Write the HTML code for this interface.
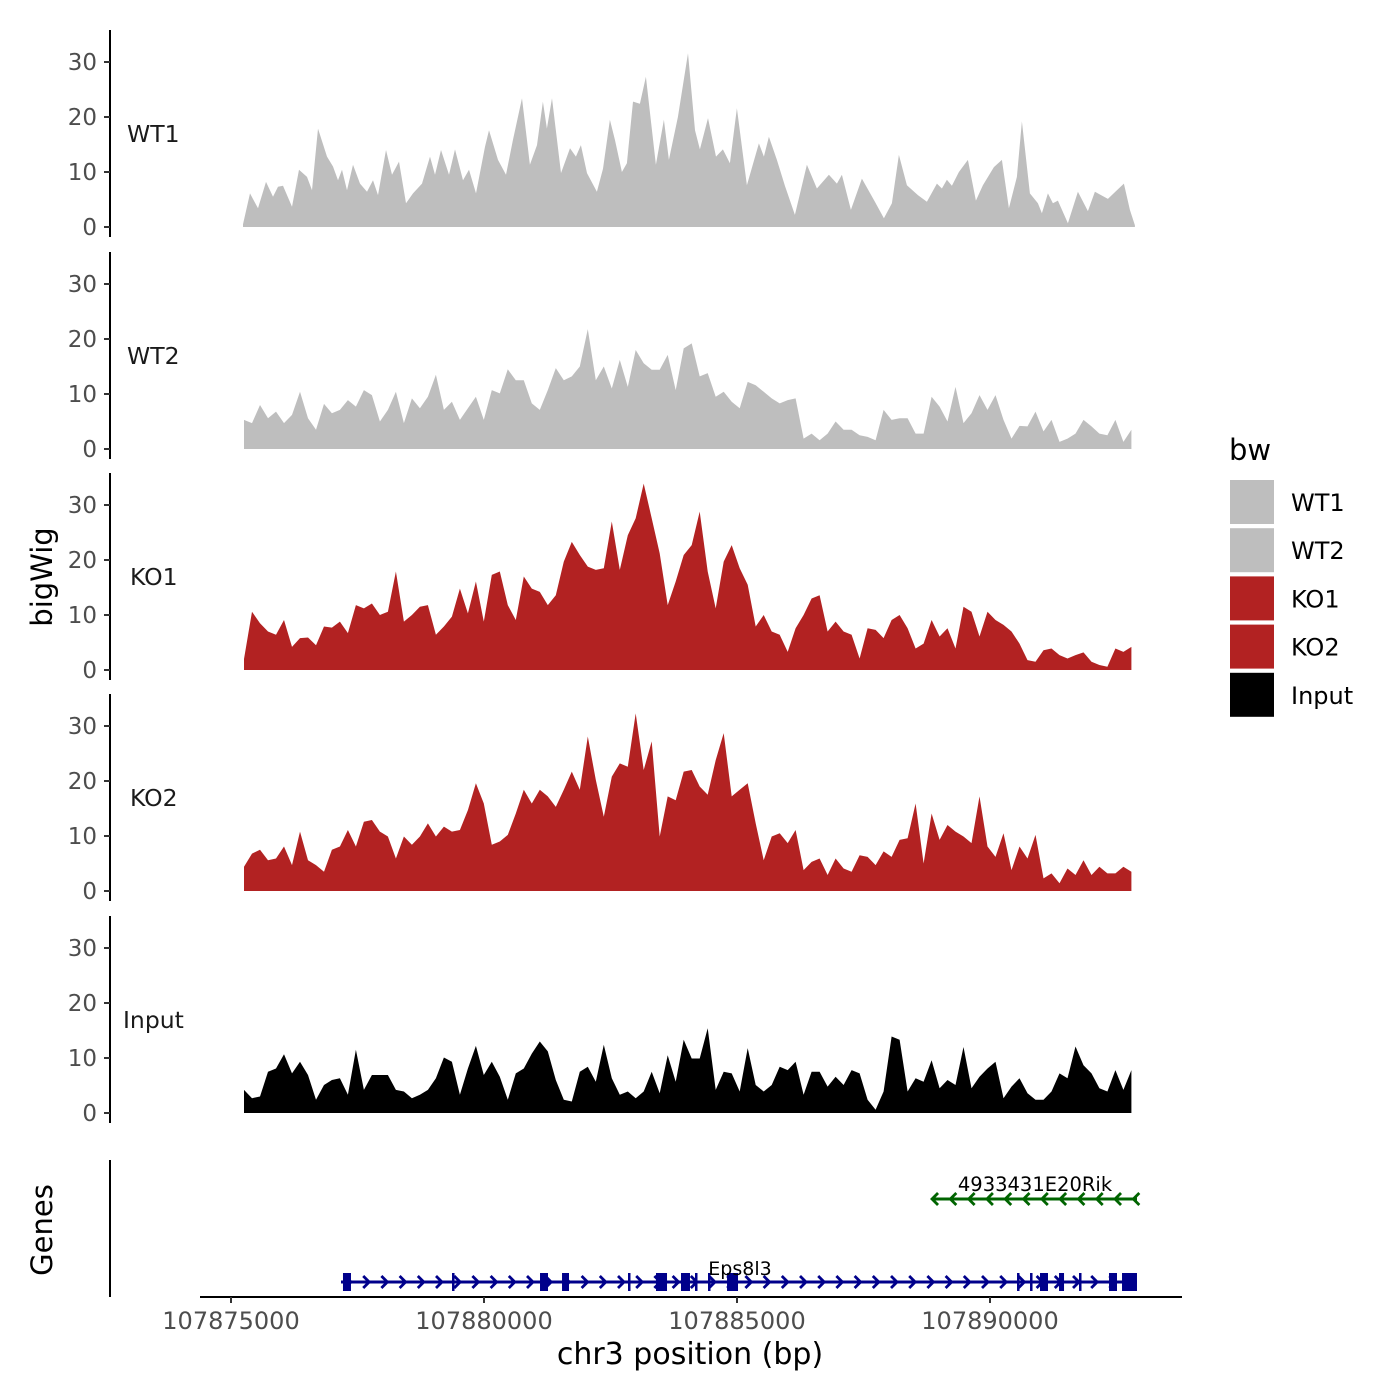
<!DOCTYPE html>
<html>
<head>
<meta charset="utf-8">
<style>
html,body{margin:0;padding:0;background:#fff;}
svg{display:block;font-family:"DejaVu Sans","Liberation Sans",sans-serif;}
</style>
</head>
<body>
<svg id="chart" width="1400" height="1400" viewBox="0 0 1400 1400" xmlns="http://www.w3.org/2000/svg">
<rect width="1400" height="1400" fill="#fff"/>
<g id="tracks"></g>
<g id="genes"></g>
<g id="axes"></g>
<text x="0" y="0" transform="translate(52,577) rotate(-90)" text-anchor="middle" font-size="29" fill="#000">bigWig</text>
<text x="0" y="0" transform="translate(52,1230) rotate(-90)" text-anchor="middle" font-size="29" fill="#000">Genes</text>
<text x="690" y="1364" text-anchor="middle" font-size="30" fill="#000">chr3 position (bp)</text>
<g id="legend">
<text x="1229" y="460" font-size="29" fill="#000">bw</text>
</g>
</svg>
<script>
const REGION_START = 107875000;
const xTicks = [107875000, 107880000, 107885000, 107890000];
const yTicks = [0, 10, 20, 30];
const sampleNames = ["WT1", "WT2", "KO1", "KO2", "Input"];
const sampleColors = ["#bebebe", "#bebebe", "#b22222", "#b22222", "#000000"];

const wt1Pos = [237,375,534,692,830,929,1028,1205,1344,1502,1601,1719,1897,2016,2114,2193,2292,2411,2549,2687,2806,2905,3063,3181,3320,3458,3596,3774,3932,4031,4150,4308,4426,4584,4703,4841,5019,5098,5276,5434,5572,5750,5908,6047,6165,6244,6343,6521,6699,6817,6916,7035,7232,7351,7489,7588,7726,7825,7944,8082,8200,8398,8556,8655,8833,9031,9169,9267,9426,9584,9722,9860,9999,10196,10433,10532,10631,10789,10947,11145,11382,11579,11817,11975,12074,12251,12469,12726,12904,13062,13200,13358,13575,13753,13951,14050,14149,14248,14386,14563,14721,14860,15077,15235,15373,15532,15631,15789,15947,16026,16144,16243,16342,16540,16737,16935,17073,17330,17508,17646,17765,17863];
const wt1Values = [0.5,6.1,3.4,8.2,5.5,7.3,7.5,3.7,10.4,9.1,6.7,17.9,12.8,11,8.5,10.4,6.7,11.3,7.9,6.4,8.5,5.8,14,9.5,11.9,4.3,6.1,7.9,12.8,9.5,14,9.5,14.1,8.5,10.4,6.1,14.6,17.6,12.2,9.5,15.8,23.4,11.3,14.9,22.8,17.9,23.4,9.8,14.3,12.8,14.9,9.8,6.4,10.6,19.5,15.8,10,11.6,22.8,22.4,27.3,11.3,19.5,12.2,20,31.6,17.6,14.1,19.8,12.8,14.1,11.6,21.6,7.6,15.2,12.8,16.4,12.2,7.5,2.2,11.3,7,9.5,7.9,9.5,3.1,8.8,4.6,1.6,4.3,13.1,7.6,5.8,4.6,7.9,7,8.6,7.5,10,12.2,4.8,7.6,10.9,12.2,3.4,9.1,19.2,6.1,4.3,2.5,6.1,4.3,4.8,0.7,6.4,2.9,6.4,5.1,6.7,7.9,3.1,0.3];

// shared genomic bins (bp) for the other tracks
const binStart = 107875257;
const binSize = 158;
const wt2Values = [5.3,4.7,8,5.6,6.8,4.7,6.2,10.4,5.6,3.5,8.2,6.5,7.1,8.9,7.7,10.7,9.8,5,7.1,10.4,4.7,9.2,7.4,9.5,13.5,7.1,8.6,5.3,7.4,9.5,5.3,10.7,10.1,14.5,12.5,12.5,8.3,7.1,10.7,14.7,12.5,13.2,15,21.8,12.5,15,11,16.2,11.3,18,15.6,14.4,14.4,17.1,10.7,18.3,19.2,13.2,13.8,9.5,10.4,8.6,7.4,12.2,11.6,10.4,9.2,8.3,8.9,9.2,1.9,2.8,1.6,2.8,5,3.5,3.5,2.5,2.2,1.6,7.1,5.3,5.6,5.6,2.8,2.8,9.5,7.7,5,11.3,4.7,6.5,9.8,7.1,9.8,5.3,1.9,4.2,4.1,6.8,3.2,5.3,1.3,1.9,2.8,5.3,4.1,2.8,2.5,5.3,1.3,3.5];
const ko1Values = [2,10.6,8.5,7,6.4,9.1,4.2,5.8,5.9,4.5,7.9,7.7,8.8,6.7,11.8,11.2,12.1,10,10.6,17.9,8.8,10,11.5,11.8,6.4,7.9,9.7,14.8,10.3,16.1,8.8,17.3,17.9,11.8,9.1,17,14.8,14.2,11.8,13.6,19.7,23.3,20.9,18.8,18.2,18.5,27,18.2,24.5,27.6,33.9,27.6,21.2,11.8,16.1,20.9,22.7,28.8,17.9,11.2,19.7,22.7,18.5,15.5,7.9,10,7,6.4,3.3,7.6,10,13,13.6,7,8.8,7,6.4,2.1,7.6,7.3,5.8,9.1,10,7.6,3.9,4.8,9.1,6.1,7.6,3.9,11.5,10.6,6.1,10.6,9.1,8.2,7,4.8,1.8,1.5,3.6,3.9,2.7,2.1,2.7,3.2,1.5,0.9,0.6,3.9,3.3,4.2];
const ko2Values = [4.4,6.8,7.5,5.6,5.9,8.1,4.7,10.8,5.6,4.7,3.5,7.5,8.1,11.1,8.1,12.6,12.9,10.8,9.9,5.9,9.9,8.4,9.9,12.3,9.9,11.7,10.8,11.1,14.7,19.6,15.9,8.4,9,10.2,14.1,18.4,15.9,18.4,17.2,15.3,18.4,21.7,18.4,28.1,20.2,13.5,20.8,23.2,22.6,32.3,22,27.2,9.9,17.2,16.5,21.7,22,19,17.5,23.8,28.7,17.2,18.4,19.6,12.3,5.6,9.9,10.5,8.7,11.1,3.8,5.3,5.9,2.9,5.9,4.1,3.5,6.5,6.2,4.7,7.2,6.2,9.3,9.6,15.9,5,14.1,9.3,12,10.8,9.9,8.7,17.2,8.1,6.2,10.5,3.8,8.1,5.9,10.2,2.3,3.2,1.4,4.1,2.9,5.6,2.9,4.4,3.2,3.2,4.4,3.5];
const inputValues = [4.2,2.7,3,7.5,8.1,10.7,7.2,9.3,6.9,2.4,5.1,6,6.3,3.3,11.5,4.2,6.9,6.9,6.9,4.2,3.9,2.7,3.3,4.2,6.3,10.1,9.3,3.3,8.1,12.2,6.9,9.3,6.6,2.4,7.2,8.1,10.8,13,11.2,6,2.4,2.1,7.5,8.4,5.7,12.4,6.3,3.3,3.9,2.7,3.9,7.5,3.6,10.5,5.7,13.3,9.9,9.9,15.4,4.2,7.5,7.2,3.9,11.8,5.1,3.9,5.1,8.4,7.8,9.3,3.3,7.5,7.5,4.8,6.6,5.1,7.8,7.2,2.4,0.6,3.9,13.9,13.3,3.9,6.3,5.7,9.6,4.5,6,5.1,12,4.5,6.6,8.1,9.3,2.7,4.8,6.3,3.6,2.4,2.4,3.9,7.2,6.3,12.1,8.7,7.2,4.5,3.9,7.8,4.2,7.8];

// genes
const eps8l3Span = [107877174, 107892905];
const eps8l3Exons = [[107877213,107877371],[107879368,107879407],[107881107,107881265],[107881542,107881680],[107882846,107882885],[107883399,107883617],[107883893,107884071],[107884170,107884210],[107884427,107884467],[107884803,107885020],[107890534,107890574],[107890791,107890830],[107890988,107891146],[107891364,107891463],[107891759,107891799],[107892352,107892510],[107892609,107892905]];
const rikSpan = [107888854, 107892905];

const NS = "http://www.w3.org/2000/svg";
function mk(tag, attrs, parent){
  const e = document.createElementNS(NS, tag);
  for (const k in attrs) e.setAttribute(k, attrs[k]);
  parent.appendChild(e);
  return e;
}
function xScale(bp){ return 231 + (bp - REGION_START) / 5000 * 253; }
const panelBase = [227, 449, 670, 891, 1113];
const PX_PER_UNIT = 5.5;
function yScale(v, p){ return panelBase[p] - v * PX_PER_UNIT; }

const binPos = [];
for (let i = 0; i < wt2Values.length; i++) binPos.push(binStart + i * binSize);
const seriesPos = [wt1Pos.map(o => REGION_START + o), binPos, binPos, binPos, binPos];
const seriesVals = [wt1Values, wt2Values, ko1Values, ko2Values, inputValues];

const tracks = document.getElementById('tracks');
const axes = document.getElementById('axes');
for (let p = 0; p < 5; p++){
  const pos = seriesPos[p], vals = seriesVals[p];
  let d = 'M' + xScale(pos[0]).toFixed(1) + ',' + panelBase[p];
  for (let i = 0; i < vals.length; i++) d += 'L' + xScale(pos[i]).toFixed(1) + ',' + yScale(vals[i], p).toFixed(1);
  d += 'L' + xScale(pos[pos.length-1]).toFixed(1) + ',' + panelBase[p] + 'Z';
  const area = mk('path', {d: d, fill: sampleColors[p]}, tracks);
  
  

  const lab = mk('text', {x: sampleNames[p] === 'Input' ? 123 : (p >= 2 ? 130 : 127), y: panelBase[p] - 85, 'font-size': 23.5, fill: '#1a1a1a'}, tracks);
  lab.textContent = sampleNames[p];
  
  

  const ax = mk('line', {x1: 110, x2: 110, y1: panelBase[p] - 197, y2: panelBase[p] + 10, stroke: '#000', 'stroke-width': 2}, axes);
  
  
  for (const t of yTicks){
    const y = yScale(t, p);
    const tk = mk('line', {x1: 104, x2: 110, y1: y, y2: y, stroke: '#333', 'stroke-width': 2}, axes);
    
    
    const tl = mk('text', {x: 97, y: y + 8, 'text-anchor': 'end', 'font-size': 23, fill: '#4d4d4d'}, axes);
    tl.textContent = t;
    
    
  }
}

// genes panel
const genes = document.getElementById('genes');
const gAx = mk('line', {x1: 110, x2: 110, y1: 1160, y2: 1297, stroke: '#000', 'stroke-width': 2}, axes);


const xAx = mk('line', {x1: 200, x2: 1182, y1: 1297, y2: 1297, stroke: '#000', 'stroke-width': 2}, axes);


for (const t of xTicks){
  const x = xScale(t);
  const tk = mk('line', {x1: x, x2: x, y1: 1297, y2: 1303, stroke: '#333', 'stroke-width': 2}, axes);
  
  
  const tl = mk('text', {x: x, y: 1329, 'text-anchor': 'middle', 'font-size': 24, fill: '#4d4d4d'}, axes);
  tl.textContent = t;
  
  
}

// Eps8l3
const bl = '#00008b', gr = '#006400';
const eY = 1282;
const eLine = mk('line', {x1: xScale(eps8l3Span[0]), x2: xScale(eps8l3Span[1]), y1: eY, y2: eY, stroke: bl, 'stroke-width': 3}, genes);


for (let x = xScale(eps8l3Span[0]) + 8; x < xScale(eps8l3Span[1]) - 4; x += 18.2){
  const a = mk('path', {d: `M${x-4},${eY-6}L${x+2},${eY}L${x-4},${eY+6}`, fill: 'none', stroke: bl, 'stroke-width': 2.8}, genes);
  
  
}
for (const ex of eps8l3Exons){
  const x1 = xScale(ex[0]), x2 = xScale(ex[1]);
  const r = mk('rect', {x: x1, y: eY - 9, width: Math.max(2.5, x2 - x1), height: 18, fill: bl}, genes);
  
  
}
const eLab = mk('text', {x: 740, y: 1275, 'text-anchor': 'middle', 'font-size': 19, fill: '#000'}, genes);
eLab.textContent = 'Eps8l3';



// 4933431E20Rik
const rY = 1199;
const rLine = mk('line', {x1: xScale(rikSpan[0]), x2: xScale(rikSpan[1]), y1: rY, y2: rY, stroke: gr, 'stroke-width': 3}, genes);


for (let x = xScale(rikSpan[0]) + 2; x < xScale(rikSpan[1]) + 1; x += 18.3){
  const a = mk('path', {d: `M${x+4},${rY-6}L${x-2},${rY}L${x+4},${rY+6}`, fill: 'none', stroke: gr, 'stroke-width': 2.8}, genes);
  
  
}
const rLab = mk('text', {x: 1035, y: 1191, 'text-anchor': 'middle', 'font-size': 19.5, fill: '#000'}, genes);
rLab.textContent = '4933431E20Rik';



// legend
const legend = document.getElementById('legend');
for (let i = 0; i < 5; i++){
  const y = 480 + i * 48.2;
  const r = mk('rect', {x: 1230, y: y, width: 44, height: 44, fill: sampleColors[i]}, legend);
  
  
  const t = mk('text', {x: 1291, y: y + 31, 'font-size': 24, fill: '#000'}, legend);
  t.textContent = sampleNames[i];
  
  
}
</script>
</body>
</html>
